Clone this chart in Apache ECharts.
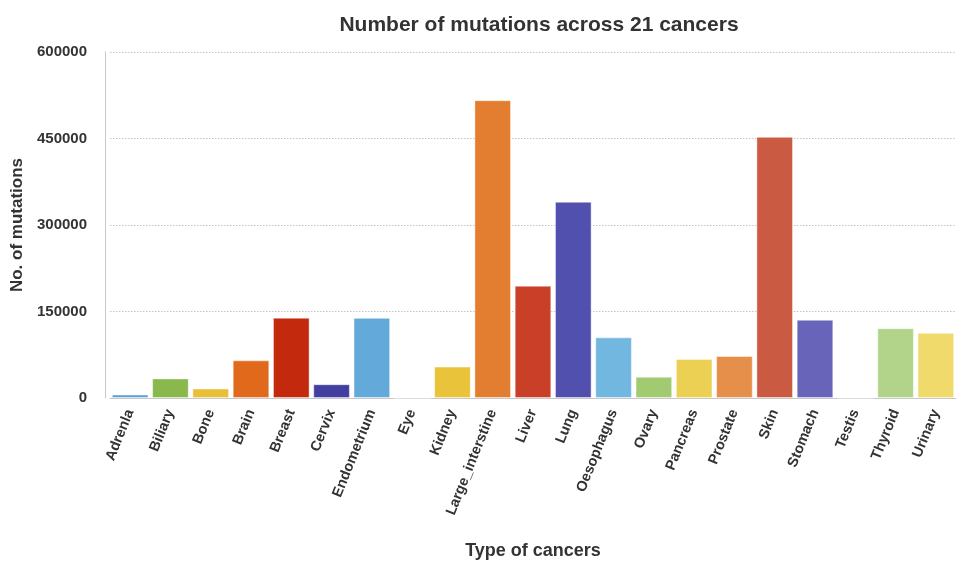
<!DOCTYPE html>
<html>
<head>
<meta charset="utf-8">
<script src="https://cdn.jsdelivr.net/npm/echarts@6/dist/echarts.min.js"></script>
<style>
  html, body { margin: 0; padding: 0; background: #fff; overflow: hidden; }
  #chart { width: 956px; height: 565px; }
</style>
</head>
<body>
<div id="chart"></div>
<script>
// Cancer types along the x axis
const cancers = ['Adrenla', 'Biliary', 'Bone', 'Brain', 'Breast', 'Cervix', 'Endometrium', 'Eye',
  'Kidney', 'Large_interstine', 'Liver', 'Lung', 'Oesophagus', 'Ovary', 'Pancreas', 'Prostate',
  'Skin', 'Stomach', 'Testis', 'Thyroid', 'Urinary'];

// Mutation counts per cancer type
const mutations = [6000, 34000, 16500, 65300, 139300, 23900, 139000, 0,
  54500, 516500, 194800, 340400, 105200, 37000, 67700, 72800,
  452900, 135800, 0, 121000, 113000];

// One fill colour per bar
const barColors = ['#5a9fd6', '#89b94c', '#e8bf36', '#e0691b', '#c32a0d', '#433fa0', '#63aada', '#9ccbe8',
  '#e9c33a', '#e37e31', '#c93f27', '#5150ae', '#72b7e0', '#a2ca70', '#ecd053', '#e68f4a',
  '#cb5a43', '#6764ba', '#bbbbbb', '#b1d48a', '#f0da6b'];

// Value axis ticks
const yTicks = [0, 150000, 300000, 450000, 600000];

const FONT = '"Liberation Sans", Arial, Helvetica, sans-serif';

const chart = echarts.init(document.getElementById('chart'), null, { renderer: 'canvas' });

chart.setOption({
  animation: false,
  backgroundColor: '#ffffff',
  textStyle: { fontFamily: FONT },
  title: {
    text: 'Number of mutations across 21 cancers',
    left: 534,
    top: 10,
    textAlign: 'center',
    textStyle: { fontFamily: FONT, fontSize: 21, fontWeight: 'bold', color: '#333333' }
  },
  // the last category runs past the right edge of the canvas
  grid: { left: 110, right: -9, top: 52, bottom: 161, containLabel: false },
  xAxis: {
    type: 'category',
    data: cancers,
    name: 'Type of cancers',
    nameLocation: 'middle',
    nameGap: 144,
    nameTextStyle: { fontFamily: FONT, fontSize: 18, fontWeight: 'bold', color: '#333333' },
    axisLine: { lineStyle: { color: '#c8c8c8', width: 1 } },
    axisTick: { show: false },
    axisLabel: {
      interval: 0,
      rotate: 68,
      margin: 12,
      fontFamily: FONT,
      fontSize: 14.5,
      fontWeight: 'bold',
      color: '#333333'
    }
  },
  yAxis: {
    type: 'value',
    min: yTicks[0],
    max: yTicks[yTicks.length - 1],
    interval: yTicks[1] - yTicks[0],
    offset: 5,
    name: 'No. of mutations',
    nameLocation: 'middle',
    nameGap: 77,
    nameRotate: 90,
    nameTextStyle: { fontFamily: FONT, fontSize: 17, fontWeight: 'bold', color: '#333333' },
    axisLine: { show: true, lineStyle: { color: '#c8c8c8', width: 1 } },
    axisTick: { show: false },
    axisLabel: {
      margin: 18,
      formatter: v => String(v),
      fontFamily: FONT,
      fontSize: 15,
      fontWeight: 'bold',
      color: '#333333'
    },
    splitLine: { show: true, lineStyle: { color: '#c4c4c4', type: [1.5, 1.5], width: 1 } }
  },
  series: [{
    type: 'bar',
    data: mutations.map((v, i) => ({
      value: v,
      itemStyle: { color: barColors[i] }
    })),
    barCategoryGap: '9%',
    itemStyle: { borderColor: 'rgba(255,255,255,0.45)', borderWidth: 1 }
  }]
});
</script>
</body>
</html>
